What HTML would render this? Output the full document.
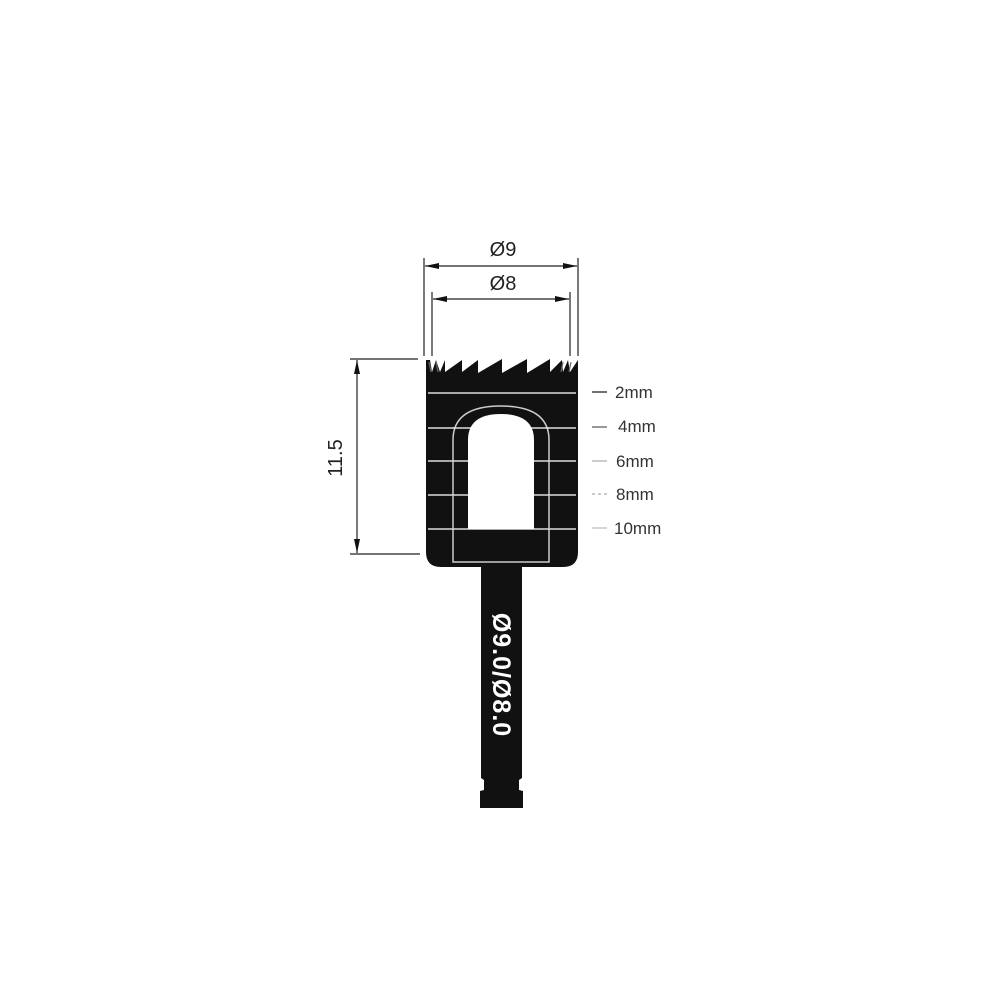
<!DOCTYPE html>
<html><head><meta charset="utf-8"><style>
html,body{margin:0;padding:0;background:#fff;width:1000px;height:1000px;overflow:hidden}
svg{display:block}
text{font-family:"Liberation Sans",sans-serif}
</style></head><body>
<svg width="1000" height="1000" viewBox="0 0 1000 1000">
<defs>
<marker id="a" viewBox="0 0 14 6" refX="14" refY="3" markerWidth="15" markerHeight="6" markerUnits="userSpaceOnUse" orient="auto-start-reverse"><path d="M0,0L14,3L0,6z" fill="#111"/></marker>
</defs>
<g stroke="#222" stroke-width="1.2" fill="none">
<line x1="424" y1="258" x2="424" y2="356"/>
<line x1="578" y1="258" x2="578" y2="356"/>
<line x1="432" y1="292" x2="432" y2="356"/>
<line x1="570" y1="292" x2="570" y2="356"/>
<line x1="425" y1="266" x2="577" y2="266" marker-start="url(#a)" marker-end="url(#a)"/>
<line x1="433" y1="299" x2="569" y2="299" marker-start="url(#a)" marker-end="url(#a)"/>
<line x1="350" y1="359" x2="418" y2="359"/>
<line x1="350" y1="554" x2="420" y2="554"/>
<line x1="357" y1="360" x2="357" y2="553" marker-start="url(#a)" marker-end="url(#a)"/>
</g>
<text x="503" y="256" font-size="20" text-anchor="middle" fill="#222">Ø9</text>
<text x="503" y="290" font-size="20" text-anchor="middle" fill="#222">Ø8</text>
<text transform="translate(342,458) rotate(-90)" font-size="20" text-anchor="middle" fill="#222">11.5</text>
<!-- body with sawtooth top -->
<path d="M426,552 L426,360 L430,360 L432,372 L436,360 L440,372 L445,360 L445,372 L462,360 L462,372 L478,360 L478,373 L502,359 L502,373 L527,359 L527,373 L550,359 L550,372 L562,360 L563,372 L568,360 L570,372 L578,360 L578,552 Q578,567 563,567 L441,567 Q426,567 426,552 Z" fill="#111"/>
<g stroke="#666" stroke-width="1.2"><line x1="429" y1="362" x2="431" y2="372"/><line x1="436" y1="362" x2="438" y2="372"/><line x1="563" y1="362" x2="561" y2="372"/><line x1="571" y1="362" x2="569" y2="372"/></g>
<g stroke="#ddd" stroke-width="1.5">
<line x1="428" y1="393" x2="576" y2="393"/>
<line x1="428" y1="428" x2="576" y2="428"/>
<line x1="428" y1="461" x2="576" y2="461"/>
<line x1="428" y1="495" x2="576" y2="495"/>
<line x1="428" y1="529" x2="576" y2="529"/>
</g>
<path d="M453,562 L453,440 Q453,406 501,406 Q549,406 549,440 L549,562 Z" fill="#111" stroke="#ccc" stroke-width="1.5"/>
<g stroke="#ddd" stroke-width="1.5">
<line x1="453" y1="428" x2="549" y2="428"/>
<line x1="453" y1="461" x2="549" y2="461"/>
<line x1="453" y1="495" x2="549" y2="495"/>
<line x1="453" y1="529" x2="549" y2="529"/>
</g>
<path d="M468,529 L468,440 Q468,414 501,414 Q534,414 534,440 L534,529 Z" fill="#fff"/>
<path d="M481,567 L522,567 L522,778 L519,780 L519,790 L523,791 L523,808 L480,808 L480,791 L484,790 L484,780 L481,778 Z" fill="#111"/>
<text transform="translate(493,675) rotate(90)" font-size="25" font-weight="bold" text-anchor="middle" fill="#fff" letter-spacing="1">Ø9.0/Ø8.0</text>
<g stroke-width="1.2">
<line x1="592" y1="392" x2="607" y2="392" stroke="#111"/>
<line x1="592" y1="427" x2="607" y2="427" stroke="#555"/>
<line x1="592" y1="461" x2="607" y2="461" stroke="#aaa"/>
<line x1="592" y1="494" x2="607" y2="494" stroke="#aaa" stroke-dasharray="3,3"/>
<line x1="592" y1="528" x2="607" y2="528" stroke="#bbb"/>
</g>
<g font-size="17" fill="#333">
<text x="615" y="398">2mm</text>
<text x="618" y="432">4mm</text>
<text x="616" y="467">6mm</text>
<text x="616" y="500">8mm</text>
<text x="614" y="534">10mm</text>
</g>
</svg>
</body></html>
